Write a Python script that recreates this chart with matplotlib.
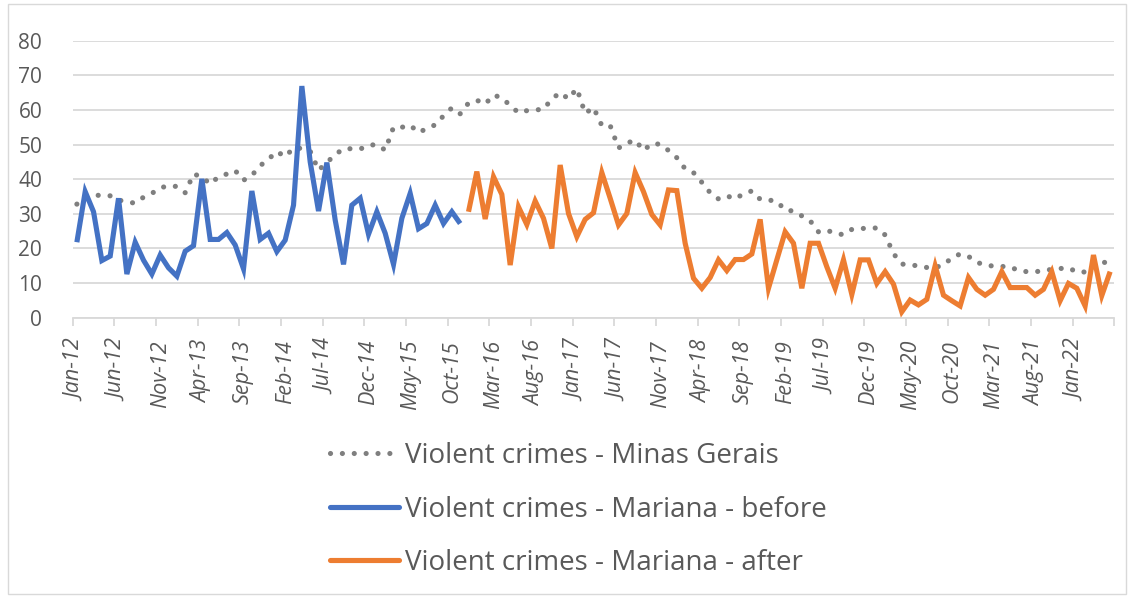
import matplotlib
matplotlib.use("Agg")
import matplotlib.pyplot as plt
from matplotlib.lines import Line2D
from matplotlib.patches import Rectangle
import numpy as np

# ---------------- data ----------------
months = ["Jan", "Feb", "Mar", "Apr", "May", "Jun", "Jul", "Aug", "Sep", "Oct", "Nov", "Dec"]
dates = [f"{months[k % 12]}-{12 + k // 12}" for k in range(125)]  # Jan-12 .. May-22

minas_gerais = [
    32.8, 34.5, 35.4, 35.3, 35.2, 34.0, 33.4, 33.1, 34.8, 35.9,
    37.5, 38.1, 37.9, 36.1, 41.5, 40.7, 38.6, 40.7, 41.5, 42.5,
    39.7, 41.1, 43.9, 45.8, 48.0, 46.5, 49.0, 48.9, 48.1, 42.6,
    44.8, 47.1, 48.8, 48.8, 48.7, 49.8, 50.0, 48.4, 55.0, 55.0,
    55.6, 53.5, 54.6, 55.7, 58.3, 60.6, 58.9, 62.0, 62.8, 61.7,
    64.3, 63.5, 61.3, 59.2, 59.8, 60.0, 60.2, 63.2, 65.0, 63.2,
    66.2, 59.0, 60.7, 55.5, 55.5, 49.0, 50.4, 51.3, 48.3, 50.3,
    50.1, 48.3, 46.2, 43.0, 41.9, 39.1, 36.1, 34.3, 35.2, 34.3,
    35.8, 36.6, 34.2, 34.0, 33.6, 31.1, 30.8, 29.4, 28.0, 24.8,
    25.3, 24.3, 24.0, 25.5, 25.7, 25.9, 25.9, 23.9, 18.5, 15.5,
    15.2, 15.0, 14.5, 14.5, 15.2, 17.3, 18.4, 17.7, 16.0, 15.2,
    14.9, 14.8, 14.7, 13.6, 13.3, 13.3, 13.5, 14.0, 14.2, 14.4,
    13.2, 13.2, 14.5, 16.2, 15.5,
]

# Jan-12 .. Nov-15
mariana_before = [
    21.8, 36.4, 30.6, 16.5, 17.8, 34.5, 12.6, 21.8, 16.6, 12.6,
    18.1, 14.4, 12.0, 19.2, 20.8, 40.1, 22.6, 22.6, 24.6, 21.0,
    14.1, 36.6, 22.6, 24.4, 19.1, 22.4, 32.5, 66.9, 45.0, 30.8,
    44.8, 28.2, 15.4, 32.5, 34.5, 24.1, 30.6, 24.4, 15.4, 28.7,
    35.9, 25.7, 27.2, 32.5, 27.2, 30.6, 27.2,
]

# Dec-15 .. May-22
mariana_after = [
    30.6, 42.2, 28.5, 40.7, 35.6, 15.2, 32.0, 26.9, 33.7, 28.7,
    20.0, 44.1, 30.1, 23.4, 28.4, 30.3, 41.9, 34.5, 26.8, 30.1,
    41.9, 36.4, 29.8, 26.8, 36.9, 36.7, 21.5, 11.4, 8.5, 11.6,
    16.7, 13.6, 16.8, 16.8, 18.4, 28.4, 8.5, 16.7, 24.8, 21.5,
    8.5, 21.5, 21.5, 14.7, 8.5, 16.7, 6.7, 16.7, 16.7, 9.9,
    13.3, 9.7, 1.7, 5.1, 3.7, 5.3, 15.0, 6.5, 4.9, 3.4,
    11.6, 8.2, 6.5, 8.2, 13.3, 8.7, 8.7, 8.7, 6.5, 8.2,
    13.3, 4.9, 9.9, 8.5, 3.4, 18.1, 6.4, 13.3,
]

labels = ["Violent crimes - Minas Gerais",
          "Violent crimes - Mariana - before",
          "Violent crimes - Mariana - after"]
y_ticks = [0, 10, 20, 30, 40, 50, 60, 70, 80]

# ---------------- style ----------------
GRAY = "#7f7f7f"
BLUE = "#4472C4"
ORANGE = "#ED7D31"
TXT = "#595959"
GRID = "#d9d9d9"
FONT = ["Open Sans", "DejaVu Sans"]

W, H = 1130, 597
fig = plt.figure(figsize=(W / 100, H / 100), dpi=100)

# chart-area border
fig.patches.append(Rectangle((8 / W, 3 / H), (W - 12) / W, (H - 7) / H,
                             transform=fig.transFigure, fill=False,
                             edgecolor=GRID, linewidth=1.0))

ax_left, ax_right = 72.7, 1114.3
ax_top, ax_bottom = 40.7, 317.7
ax = fig.add_axes([ax_left / W, 1 - ax_bottom / H,
                   (ax_right - ax_left) / W, (ax_bottom - ax_top) / H])

n = len(dates)
x_all = np.arange(n)
nb = len(mariana_before)
x_before = np.arange(nb)
x_after = np.arange(nb, nb + len(mariana_after))

DOT = (0, (0.01, 2.3))
ax.plot(x_all, minas_gerais, color=GRAY, lw=3.7,
        linestyle=DOT, dash_capstyle="round", zorder=3)
ax.plot(x_before, mariana_before, color=BLUE, lw=3.7,
        solid_joinstyle="miter", solid_capstyle="butt", zorder=4)
ax.plot(x_after, mariana_after, color=ORANGE, lw=3.7,
        solid_joinstyle="miter", solid_capstyle="butt", zorder=4)

ax.set_xlim(-0.5, n - 0.5)
ax.set_ylim(0, 80)

for s in ["top", "right", "left"]:
    ax.spines[s].set_visible(False)
ax.spines["bottom"].set_color(GRID)
ax.spines["bottom"].set_linewidth(1.3)
ax.spines["bottom"].set_zorder(1)

ax.set_yticks(y_ticks)
ax.set_yticklabels([str(v) for v in y_ticks], fontsize=15, color=TXT, family=FONT)
ax.tick_params(axis="y", length=0, pad=22)
ax.yaxis.grid(True, color=GRID, lw=1.3)
ax.set_axisbelow(True)

# tick marks at category boundaries, labels centered on categories
lab_pos = list(range(0, n, 5))
ax.set_xticks([p - 0.5 for p in range(0, n + 1, 5)])
ax.set_xticklabels([])
ax.tick_params(axis="x", which="major", length=6, color=GRID, width=1.3)
ax.set_xticks(lab_pos, minor=True)
ax.set_xticklabels([dates[p] for p in lab_pos], minor=True, rotation=90,
                   fontsize=15.5, color=TXT, family=FONT, style="italic")
ax.tick_params(axis="x", which="minor", length=0, pad=16)

handles = [
    Line2D([0], [0], color=GRAY, lw=3.7, linestyle=DOT, dash_capstyle="round"),
    Line2D([0], [0], color=BLUE, lw=3.7, solid_capstyle="round"),
    Line2D([0], [0], color=ORANGE, lw=3.7, solid_capstyle="round"),
]
leg = fig.legend(handles, labels, loc="upper left",
                 bbox_to_anchor=(305 / W, 1 - 417 / H),
                 frameon=False, prop={"family": FONT, "size": 20},
                 handlelength=2.5, handletextpad=0.2, labelspacing=0.92)
for t in leg.get_texts():
    t.set_color(TXT)

fig.savefig("out.png", dpi=100)
